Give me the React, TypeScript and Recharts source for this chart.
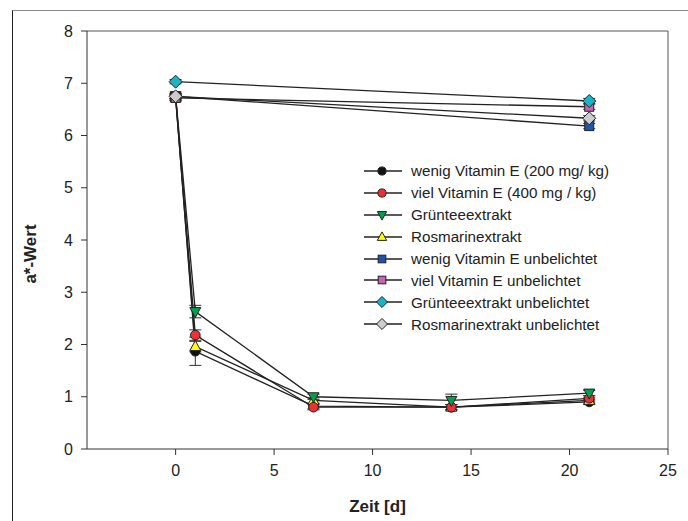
import type { FC, ReactNode } from 'react'
import {
    LineChart,
    Line,
    XAxis,
    YAxis,
    ErrorBar,
    ReferenceLine
} from 'recharts'

const FONT = 'Arial, "Liberation Sans", sans-serif'

// sampling days
const daysLight = [0, 1, 7, 14, 21]
const daysDark = [0, 21]

const xTicks = [0, 5, 10, 15, 20, 25]
const yTicks = [0, 1, 2, 3, 4, 5, 6, 7, 8]

// exposed samples
const wenigE = [6.75, 1.87, 0.82, 0.8, 0.9]
const wenigEErr = [0.05, 0.27, 0.05, 0.05, 0.05]
const vielE = [6.73, 2.18, 0.8, 0.8, 0.97]
const vielEErr = [0.05, 0.1, 0.05, 0.05, 0.05]
const gruentee = [6.76, 2.63, 1.0, 0.93, 1.07]
const gruenteeErr = [0.05, 0.12, 0.05, 0.12, 0.05]
const rosmarin = [6.72, 1.96, 0.93, 0.8, 0.93]
const rosmarinErr = [0.05, 0.1, 0.05, 0.05, 0.05]

// unexposed samples
const wenigEDark = [6.75, 6.18]
const vielEDark = [6.72, 6.55]
const gruenteeDark = [7.03, 6.66]
const rosmarinDark = [6.75, 6.33]
const darkErr = [0.04, 0.05]

type Shape = 'circle' | 'triDown' | 'triUp' | 'square' | 'diamond'

interface SeriesDef {
    name: string
    shape: Shape
    fill: string
    days: number[]
    values: number[]
    errors: number[]
}

// legend order
const series: SeriesDef[] = [
    { name: 'wenig Vitamin E (200 mg/ kg)', shape: 'circle', fill: '#111111', days: daysLight, values: wenigE, errors: wenigEErr },
    { name: 'viel Vitamin E (400 mg / kg)', shape: 'circle', fill: '#ee3035', days: daysLight, values: vielE, errors: vielEErr },
    { name: 'Grünteeextrakt', shape: 'triDown', fill: '#00a04e', days: daysLight, values: gruentee, errors: gruenteeErr },
    { name: 'Rosmarinextrakt', shape: 'triUp', fill: '#ffff00', days: daysLight, values: rosmarin, errors: rosmarinErr },
    { name: 'wenig Vitamin E unbelichtet', shape: 'square', fill: '#1f55a8', days: daysDark, values: wenigEDark, errors: darkErr },
    { name: 'viel Vitamin E unbelichtet', shape: 'square', fill: '#c465b4', days: daysDark, values: vielEDark, errors: darkErr },
    { name: 'Grünteeextrakt unbelichtet', shape: 'diamond', fill: '#18b4c8', days: daysDark, values: gruenteeDark, errors: darkErr },
    { name: 'Rosmarinextrakt unbelichtet', shape: 'diamond', fill: '#cccccc', days: daysDark, values: rosmarinDark, errors: darkErr }
]

// paint order (later = on top)
const drawOrder = [0, 3, 1, 2, 4, 5, 6, 7]

const Marker: FC<{ shape: Shape; fill: string; cx: number; cy: number; k?: number }> = ({
    shape,
    fill,
    cx,
    cy,
    k = 1
}): ReactNode => {
    const stroke = '#222'
    if (shape === 'circle')
        return <circle cx={cx} cy={cy} r={4.8 * k} fill={fill} stroke={stroke} strokeWidth={1} />
    if (shape === 'square')
        return <rect x={cx - 4.5 * k} y={cy - 4.5 * k} width={9 * k} height={9 * k} fill={fill} stroke={stroke} strokeWidth={1} />
    if (shape === 'diamond') {
        const d = 6.5 * k
        return (
            <polygon
                points={`${cx},${cy - d} ${cx + d},${cy} ${cx},${cy + d} ${cx - d},${cy}`}
                fill={fill}
                stroke={stroke}
                strokeWidth={1}
            />
        )
    }
    const h = 5.5 * k
    if (shape === 'triUp')
        return (
            <polygon
                points={`${cx},${cy - 6 * k} ${cx + h},${cy + 4 * k} ${cx - h},${cy + 4 * k}`}
                fill={fill}
                stroke={stroke}
                strokeWidth={1}
            />
        )
    return (
        <polygon
            points={`${cx},${cy + 6 * k} ${cx + h},${cy - 4 * k} ${cx - h},${cy - 4 * k}`}
            fill={fill}
            stroke={stroke}
            strokeWidth={1}
        />
    )
}

const App: FC = (): ReactNode => {
    return (
        <div style={{ position: 'absolute', left: 0, top: 0, width: 688, height: 521, background: '#fff', overflow: 'hidden' }}>
            <div
                style={{
                    position: 'absolute',
                    left: 12,
                    top: 10,
                    width: 700,
                    height: 540,
                    borderTop: '1.5px solid #888',
                    borderLeft: '1.5px solid #222'
                }}
            />
            <LineChart
                width={688}
                height={521}
                margin={{ top: 31, right: 20, bottom: 0, left: 0 }}
                style={{ position: 'absolute', left: 0, top: 0 }}
            >
                <XAxis
                    type='number'
                    dataKey='x'
                    domain={[-4.5, 25]}
                    ticks={xTicks}
                    allowDataOverflow
                    stroke='#333'
                    tick={{ fontSize: 16, fill: '#222', fontFamily: FONT }}
                    tickSize={6}
                    tickMargin={10}
                    height={72}
                    label={{
                        value: 'Zeit [d]',
                        position: 'insideBottom',
                        offset: 9,
                        style: { fontSize: 17, fontWeight: 'bold', fill: '#222', fontFamily: FONT }
                    }}
                />
                <YAxis
                    type='number'
                    domain={[0, 8]}
                    ticks={yTicks}
                    stroke='#333'
                    tick={{ fontSize: 16, fill: '#222', fontFamily: FONT }}
                    tickSize={6}
                    tickMargin={8}
                    width={87}
                    label={{
                        value: 'a*-Wert',
                        angle: -90,
                        position: 'insideLeft',
                        offset: 30,
                        dy: 14,
                        style: { textAnchor: 'middle', fontSize: 17, fontWeight: 'bold', fill: '#222', fontFamily: FONT }
                    }}
                />
                <ReferenceLine y={8} stroke='#555' strokeWidth={1} />
                <ReferenceLine x={25} stroke='#555' strokeWidth={1} />
                {drawOrder.map((idx) => {
                    const s = series[idx]
                    return (
                        <Line
                            key={s.name}
                            name={s.name}
                            data={s.days.map((d, i) => ({ x: d, y: s.values[i], err: s.errors[i] }))}
                            dataKey='y'
                            stroke='#222'
                            strokeWidth={1.3}
                            isAnimationActive={false}
                            dot={(p: any) => (
                                <Marker key={`${s.name}-${p.index}`} shape={s.shape} fill={s.fill} cx={p.cx} cy={p.cy} />
                            )}
                            activeDot={false}
                        >
                            <ErrorBar dataKey='err' direction='y' width={6} stroke='#333' strokeWidth={1} />
                        </Line>
                    )
                })}
            </LineChart>
            <div style={{ position: 'absolute', left: 360, top: 160, fontFamily: FONT, fontSize: 15.2, color: '#222' }}>
                {series.map((s) => (
                    <div key={s.name} style={{ display: 'flex', alignItems: 'center', height: 21.9 }}>
                        <svg width={48} height={16} style={{ flex: 'none' }}>
                            <line x1={4} y1={8} x2={42} y2={8} stroke='#222' strokeWidth={1.3} />
                            <Marker shape={s.shape} fill={s.fill} cx={22} cy={8} k={0.85} />
                        </svg>
                        <span style={{ marginLeft: 3, whiteSpace: 'nowrap' }}>{s.name}</span>
                    </div>
                ))}
            </div>
        </div>
    )
}

export default App
